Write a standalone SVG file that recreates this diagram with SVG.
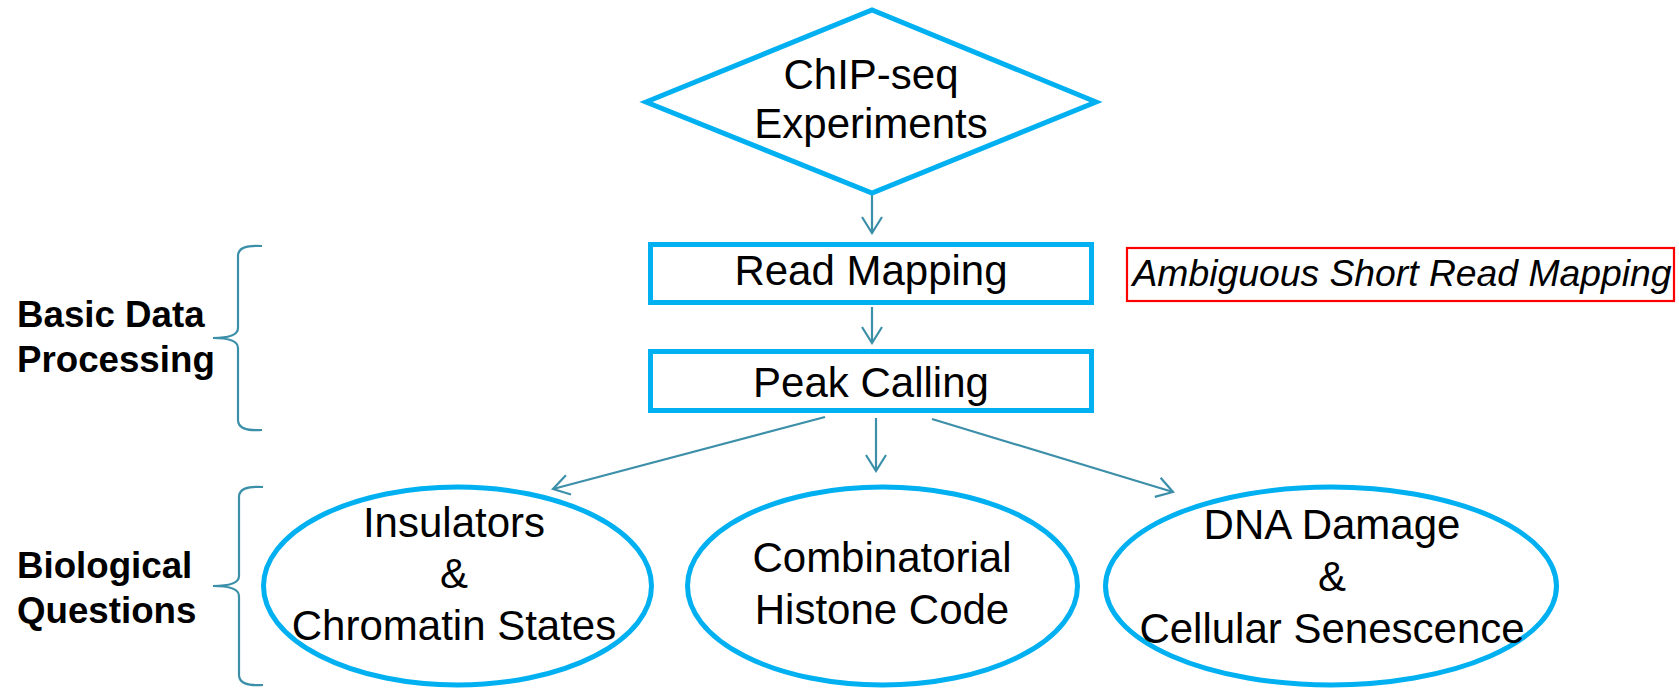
<svg xmlns="http://www.w3.org/2000/svg" width="1679" height="689" viewBox="0 0 1679 689">
  <style>
    .shape { fill: #FFFFFF; stroke: #00B0F0; stroke-width: 5; }
    .label { font-family: "Liberation Sans", Arial, sans-serif; font-size: 42px; fill: #000000; text-anchor: middle; }
    .side { font-family: "Liberation Sans", Arial, sans-serif; font-size: 36.7px; font-weight: bold; fill: #000000; }
    .note { font-family: "Liberation Sans", Arial, sans-serif; font-size: 37.3px; font-style: italic; fill: #000000; text-anchor: middle; }
    .conn { fill: none; stroke: #3C8FA9; stroke-width: 2.2; marker-end: url(#open-arrow); }
    .brace { fill: none; stroke: #3C8FA9; stroke-width: 2.2; }
  </style>
  <defs>
    <marker id="open-arrow" markerUnits="userSpaceOnUse" viewBox="-18 -12 20 24" markerWidth="20" markerHeight="24" refX="0" refY="0" orient="auto">
      <path d="M-16,-10 L0,0 L-16,10" fill="none" stroke="#3C8FA9" stroke-width="2.2"/>
    </marker>
  </defs>

  <rect width="1679" height="689" fill="#FFFFFF"/>

  <!-- side braces and section labels -->
  <g id="basic-data-processing">
    <path class="brace" d="M262,246 C246,245 238,248 238,256 L238,328 C238,335 229,338 213,338 C229,338 238,341 238,348 L238,420 C238,428 246,431 262,430"/>
    <text class="side" x="17" y="327">Basic Data</text>
    <text class="side" x="17" y="372">Processing</text>
  </g>
  <g id="biological-questions">
    <path class="brace" d="M263,487 C247,486 239,489 239,497 L239,576 C239,583 230,586 213,586 C230,586 239,589 239,596 L239,675 C239,683 247,686 263,685"/>
    <text class="side" x="17" y="578">Biological</text>
    <text class="side" x="17" y="623">Questions</text>
  </g>

  <!-- connectors -->
  <g id="connectors">
    <line class="conn" x1="872" y1="195" x2="872" y2="233"/>
    <line class="conn" x1="872" y1="307" x2="872" y2="343"/>
    <line class="conn" x1="876" y1="418" x2="876" y2="471"/>
    <line class="conn" x1="825" y1="417" x2="553" y2="489"/>
    <line class="conn" x1="932" y1="419" x2="1173" y2="492"/>
  </g>

  <!-- flow nodes -->
  <g id="chip-seq-experiments">
    <polygon class="shape" points="646,102 872,10 1096,102 872,193"/>
    <text class="label" x="871" y="89">ChIP-seq</text>
    <text class="label" x="871" y="138">Experiments</text>
  </g>
  <g id="read-mapping">
    <rect class="shape" x="650.5" y="244.5" width="441" height="58"/>
    <text class="label" x="871" y="285">Read Mapping</text>
  </g>
  <g id="peak-calling">
    <rect class="shape" x="650.5" y="351.5" width="441" height="59"/>
    <text class="label" x="871" y="397">Peak Calling</text>
  </g>
  <g id="ambiguous-mapping-note">
    <rect x="1127" y="248" width="547" height="53" fill="#FFFFFF" stroke="#FF0000" stroke-width="2.2"/>
    <text class="note" x="1402" y="286">Ambiguous Short Read Mapping</text>
  </g>
  <g id="insulators">
    <ellipse class="shape" cx="457.5" cy="586" rx="194" ry="99"/>
    <text class="label" x="454" y="537">Insulators</text>
    <text class="label" x="454" y="588">&amp;</text>
    <text class="label" x="454" y="640">Chromatin States</text>
  </g>
  <g id="histone-code">
    <ellipse class="shape" cx="882.5" cy="586" rx="195" ry="99"/>
    <text class="label" x="882" y="572">Combinatorial</text>
    <text class="label" x="882" y="624">Histone Code</text>
  </g>
  <g id="dna-damage">
    <ellipse class="shape" cx="1331" cy="586" rx="225.5" ry="99"/>
    <text class="label" x="1332" y="539">DNA Damage</text>
    <text class="label" x="1332" y="591">&amp;</text>
    <text class="label" x="1332" y="643">Cellular Senescence</text>
  </g>
</svg>
